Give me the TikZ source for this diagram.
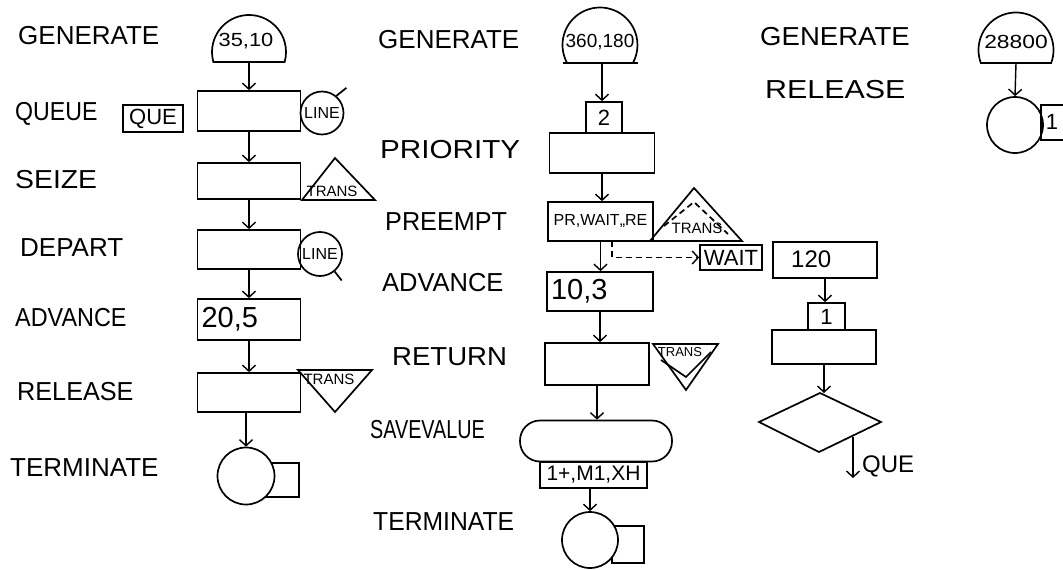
\documentclass[tikz,border=0pt]{standalone}
\usepackage{fontspec}
\setmainfont{Liberation Sans}
\usepackage{graphicx}
\usetikzlibrary{arrows.meta,shapes.geometric}
\tikzset{
 ln/.style={line width=1.7pt},
 blk/.style={draw, line width=1.7pt, inner sep=0pt},
 conn/.style={line width=1.4pt, -{Straight Barb[length=6pt,width=13pt,line width=1.4pt]}},
 lbl/.style={anchor=west, font=\fontsize{26}{28}\selectfont, inner sep=0pt},
 big/.style={font=\fontsize{29}{31}\selectfont},
 mid/.style={font=\fontsize{22}{24}\selectfont},
 dom/.style={font=\fontsize{19}{21}\selectfont},
 sml/.style={font=\fontsize{15}{17}\selectfont},
 tiny/.style={font=\fontsize{13}{15}\selectfont},
}
\newcommand\sx[2]{\scalebox{#1}[1]{#2}}
\begin{document}
\begin{tikzpicture}[x=1pt,y=-1pt]
\useasboundingbox (0,0) rectangle (1063,570);

% ---------------- left column ----------------
\node[lbl] (l1) at (18,36) {GENERATE};
\node[lbl] (l2) at (15,114) {\sx{0.89}{QUEUE}};
\node[lbl] (l3) at (15,180) {\sx{1.09}{SEIZE}};
\node[lbl] (l4) at (20,248) {DEPART};
\node[lbl] (l5) at (15,318) {\sx{0.9}{ADVANCE}};
\node[lbl] (l6) at (17,392) {\sx{0.97}{RELEASE}};
\node[lbl] (l7) at (10,468) {TERMINATE};

\coordinate (g1b) at (249,62);
\draw[ln] (213.4,62) arc[start angle=164.32, end angle=375.68, radius=37] -- cycle;
\node[dom] (g1t) at (246,41) {\sx{1.15}{35,10}};

\node[blk, minimum width=103, minimum height=40] (q1) at (249,111) {};
\node[blk, mid, minimum width=60, minimum height=27] (que) at (153,118.5) {QUE};
\node[blk, circle, minimum size=43, font=\fontsize{16}{18}\selectfont] (ln1) at (322,113) {LINE};
\draw[ln] (ln1.50) -- ++(10,-8);

\node[blk, minimum width=103, minimum height=36] (s1) at (249,181) {};
\draw[ln] (302,200) -- (335,158) -- (375,200) -- cycle;
\node[sml] (tr1) at (332,191) {TRANS};

\node[blk, minimum width=103, minimum height=39] (d1) at (249,249.5) {};
\node[blk, circle, minimum size=44, font=\fontsize{16}{18}\selectfont] (ln2) at (320,254) {LINE};
\draw[ln] (ln2.-50) -- ++(7,9);

\node[blk, big, minimum width=103, minimum height=41, text width=95, align=left, inner sep=4pt] (a1) at (249,319.5) {20,5};

\node[blk, minimum width=103, minimum height=39] (r1) at (249,392.5) {};
\draw[ln] (298,370) -- (372,370) -- (335,412) -- cycle;
\node[sml] (tr2) at (329,379) {TRANS};

\draw[ln] (262,463) rectangle (299,497);
\node[blk, circle, fill=white, minimum size=57] (t1) at (246,476) {};

\draw[conn] (g1b) -- (q1.north);
\draw[conn] (q1.south) -- (s1.north);
\draw[conn] (s1.south) -- (d1.north);
\draw[conn] (d1.south) -- (a1.north);
\draw[conn] (a1.south) -- (r1.north);
\draw[conn] (t1.north |- r1.south) -- (t1.north);

% ---------------- middle column ----------------
\node[lbl] (m1) at (378,40) {GENERATE};
\node[lbl] (m2) at (380,150) {\sx{1.14}{PRIORITY}};
\node[lbl] (m3) at (385,222) {\sx{0.97}{PREEMPT}};
\node[lbl] (m4) at (382,283) {\sx{0.98}{ADVANCE}};
\node[lbl] (m5) at (392,357) {\sx{1.06}{RETURN}};
\node[lbl] (m6) at (370,430) {\sx{0.76}{SAVEVALUE}};
\node[lbl] (m7) at (373,522) {\sx{0.95}{TERMINATE}};

\coordinate (g2b) at (602,63);
\draw[ln] (567.1,63) arc[start angle=151.31, end angle=388.69, radius=37.5];
\draw[ln] (563,63) -- (638,63);
\node[dom] (g2t) at (600,42) {360,180};

\node[blk, mid, minimum width=36, minimum height=31] (p2) at (604,117.5) {2};
\node[blk, minimum width=105, minimum height=40] (pr) at (602,153) {};

\node[blk, minimum width=105, minimum height=39, font=\fontsize{16}{18}\selectfont] (pe) at (600.5,221.5) {\raisebox{-4pt}{PR,WAIT,,RE}};
\draw[ln] (650,241) -- (694,188) -- (742,241) -- cycle;
\draw[ln, dash pattern=on 6pt off 4pt] (664,226) -- (694,202) -- (728,234);
\node[sml] (tr3) at (697,228) {TRANS};
\node[blk, mid, minimum width=62, minimum height=25] (wt) at (731,257.5) {WAIT};
\coordinate (dsh) at (612,241);
\draw[conn, dash pattern=on 6pt off 4pt] (dsh) |- (wt.west);

\node[blk, big, minimum width=106, minimum height=39, text width=98, align=left, inner sep=4pt] (a2) at (600,291.5) {10,3};

\node[blk, minimum width=104, minimum height=42] (ret) at (597,364) {};
\draw[ln] (653,344) -- (718,344) -- (686,390) -- cycle;
\draw[ln] (661,360) -- (686,377) -- (711,352);
\node[tiny] (tr4) at (680,352) {TRANS};

\node[blk, rounded corners=20, minimum width=152, minimum height=41] (sv) at (596,441) {};
\node[blk, font=\fontsize{21}{23}\selectfont, minimum width=107, minimum height=26] (svb) at (593.5,475) {1+,M1,XH};

\draw[ln] (612,526) rectangle (644,563);
\node[blk, circle, fill=white, minimum size=56] (t2) at (590,540) {};

\draw[conn] (g2b) -- (g2b |- p2.north);
\draw[conn] (pr.south) -- (pr.south |- pe.north);
\draw[conn] (pe.south) -- (pe.south |- a2.north);
\draw[conn] (a2.south) -- (a2.south |- ret.north);
\draw[conn] (ret.south) -- (ret.south |- sv.north);
\draw[conn] (t2.north |- svb.south) -- (t2.north);

% ---------------- right column ----------------
\node[lbl] (r1l) at (760,37) {\sx{1.06}{GENERATE}};
\node[lbl] (r2l) at (765,90) {\sx{1.17}{RELEASE}};

\coordinate (g3b) at (1016,63);
\draw[ln] (980.83,63) arc[start angle=159.72, end angle=380.28, radius=37.5] -- cycle;
\node[dom] (g3t) at (1016,42) {\sx{1.2}{28800}};

\node[blk, circle, minimum size=56] (c3) at (1015,125) {};
\draw[ln] (1063,105) -- (1041,105) -- (1041,140) -- (1063,140);
\node[mid] (c3n) at (1052,122) {1};
\draw[conn] (g3b) -- (c3.north);

\node[blk, minimum width=104, minimum height=36] (b120) at (825,260) {};
\node[font=\fontsize{24}{26}\selectfont, anchor=west, inner sep=0pt] (b120t) at (791,259) {120};
\node[blk, mid, minimum width=37, minimum height=27] (one3) at (826.5,316.5) {1};
\node[blk, minimum width=104, minimum height=34] (b3) at (824,347) {};

\coordinate (dmt) at (820,393);
\coordinate (dml) at (759,422);
\coordinate (dmr) at (881,422);
\coordinate (dmb) at (819,452);
\draw[ln] (dmt) -- (dmr) -- (dmb) -- (dml) -- cycle;
\coordinate (dex) at (853,437);
\coordinate (dexe) at (853,478);
\draw[conn] (dex) -- (dexe);
\node[font=\fontsize{24}{26}\selectfont, anchor=west, inner sep=0pt] (quel) at (862,466) {QUE};

\draw[conn] (b120.south) -- (b120.south |- one3.north);
\draw[conn] (b3.south) -- (b3.south |- dmt);
\end{tikzpicture}
\end{document}
